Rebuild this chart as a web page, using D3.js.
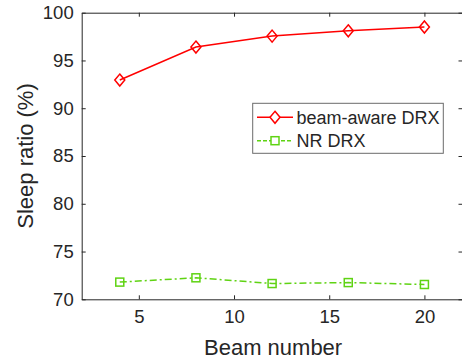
<!DOCTYPE html>
<html lang="en">
  <head>
    <meta charset="UTF-8" />
    <title>Sleep ratio</title>
    <script src="https://d3js.org/d3.v7.min.js"></script>
    <style>
      body { margin: 0; background: #fff; }
      svg { display: block; font-family: 'Liberation Sans', Arial, sans-serif; }
    </style>
  </head>
  <body>
    <div id="graph"></div>
    <script>
      const beams = [4, 8, 12, 16, 20]
      const beamAware = [92.95, 96.4, 97.55, 98.1, 98.5]
      const nrDrx = [71.8, 72.25, 71.65, 71.75, 71.55]
      const xTicks = [5, 10, 15, 20]
      const yTicks = [70, 75, 80, 85, 90, 95, 100]

      const W = 462, H = 361
      const m = { left: 81.7, top: 12.7, right: -0.5, bottom: 61.7 }
      const ink = '#262626'

      const svg = d3.select('#graph').append('svg').attr('width', W).attr('height', H)

      // 比例尺
      const x = d3.scaleLinear().domain([2, 22]).range([m.left, W - m.right])
      const y = d3.scaleLinear().domain([70, 100]).range([H - m.bottom, m.top])

      // 坐标轴 (ticks inward, box on)
      const axisStyle = (g) => {
        g.selectAll('.domain').attr('stroke', ink)
        g.selectAll('.tick line').attr('stroke', ink)
        g.selectAll('.tick text').attr('fill', ink).attr('font-size', 18.5)
      }
      svg.append('g')
        .attr('transform', `translate(0,${y(70)})`)
        .call(d3.axisBottom(x).tickValues(xTicks).tickSizeInner(-4).tickSizeOuter(0).tickPadding(11))
        .call(axisStyle)
      svg.append('g')
        .attr('transform', `translate(0,${y(100)})`)
        .call(d3.axisTop(x).tickValues(xTicks).tickSizeInner(-4).tickSizeOuter(0).tickFormat(''))
        .call(axisStyle)
      svg.append('g')
        .attr('transform', `translate(${x(2)},0)`)
        .call(d3.axisLeft(y).tickValues(yTicks).tickSizeInner(-4).tickSizeOuter(0).tickPadding(8))
        .call(axisStyle)
      svg.append('g')
        .attr('transform', `translate(${x(22)},0)`)
        .call(d3.axisRight(y).tickValues(yTicks).tickSizeInner(-4).tickSizeOuter(0).tickFormat(''))
        .call(axisStyle)

      svg.append('text')
        .attr('x', (x(2) + x(22)) / 2 + 1)
        .attr('y', 355)
        .attr('text-anchor', 'middle')
        .attr('font-size', 22)
        .attr('fill', ink)
        .text('Beam number')
      svg.append('text')
        .attr('transform', `translate(33,${(y(70) + y(100)) / 2}) rotate(-90)`)
        .attr('text-anchor', 'middle')
        .attr('font-size', 22)
        .attr('fill', ink)
        .text('Sleep ratio (%)')

      const line = d3.line().x((d) => x(d[0])).y((d) => y(d[1]))
      const red = '#ff0000', green = '#5fd313'
      const diamond = (cx, cy) => `M${cx},${cy - 6}L${cx + 5},${cy}L${cx},${cy + 6}L${cx - 5},${cy}Z`

      const series = [
        { name: 'beam-aware DRX', vals: beamAware, color: red, dash: null, mark: 'd' },
        { name: 'NR DRX', vals: nrDrx, color: green, dash: '7,3,2,3', mark: 's' }
      ]

      series.forEach((s) => {
        const pts = beams.map((b, i) => [b, s.vals[i]])
        svg.append('path')
          .attr('d', line(pts))
          .attr('fill', 'none')
          .attr('stroke', s.color)
          .attr('stroke-width', 1.5)
          .attr('stroke-dasharray', s.dash)
        const g = svg.append('g')
        pts.forEach((p) => {
          if (s.mark === 'd') {
            g.append('path').attr('d', diamond(x(p[0]), y(p[1])))
              .attr('fill', 'none').attr('stroke', s.color).attr('stroke-width', 1.5)
          } else {
            g.append('rect').attr('x', x(p[0]) - 4).attr('y', y(p[1]) - 4)
              .attr('width', 8).attr('height', 8)
              .attr('fill', 'none').attr('stroke', s.color).attr('stroke-width', 1.5)
          }
        })
      })

      // 图例
      const lg = svg.append('g')
      lg.append('rect')
        .attr('x', 252.7).attr('y', 103.3).attr('width', 190.6).attr('height', 50)
        .attr('fill', '#fff').attr('stroke', '#6b6b6b').attr('stroke-width', 1)
      series.forEach((s, i) => {
        const ly = 117.3 + i * 23.4
        lg.append('line').attr('x1', 257).attr('x2', 293).attr('y1', ly).attr('y2', ly)
          .attr('stroke', s.color).attr('stroke-width', 1.5)
          .attr('stroke-dasharray', s.dash ? '4,2' : null)
        if (s.mark === 'd') {
          lg.append('path').attr('d', diamond(275, ly)).attr('fill', '#fff')
            .attr('stroke', s.color).attr('stroke-width', 1.5)
        } else {
          lg.append('rect').attr('x', 271).attr('y', ly - 4).attr('width', 8).attr('height', 8)
            .attr('fill', '#fff').attr('stroke', s.color).attr('stroke-width', 1.5)
        }
        lg.append('text').attr('x', 296.5).attr('y', ly + 6.5)
          .attr('font-size', 18).attr('fill', ink).text(s.name)
      })
    </script>
  </body>
</html>
